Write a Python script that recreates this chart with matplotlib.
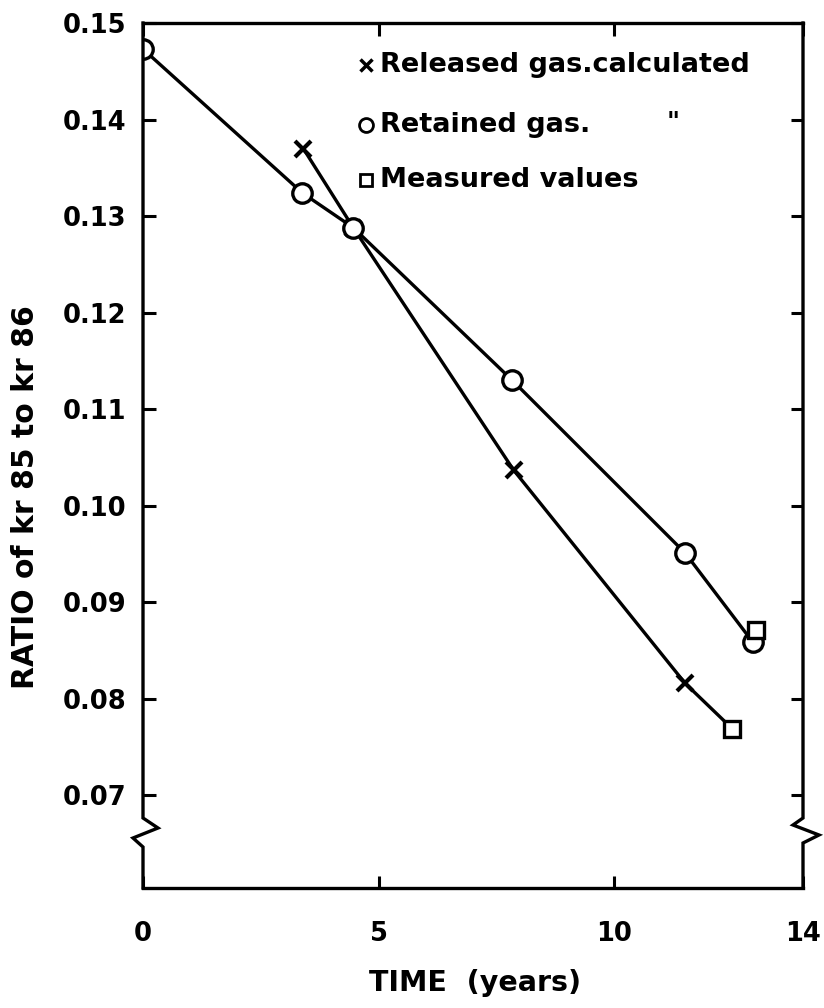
import matplotlib
matplotlib.use("Agg")
import matplotlib.pyplot as plt

# Data
retained_t = [0.0, 3.38, 4.46, 7.83, 11.5, 12.93]
retained_r = [0.1473, 0.1324, 0.1288, 0.1130, 0.0951, 0.0859]

released_t = [3.40, 4.46, 7.86, 11.5]
released_r = [0.1370, 0.1288, 0.1037, 0.0816]

measured_t = [12.5, 13.0]
measured_r = [0.0769, 0.0871]

x_ticks = [0, 5, 10, 14]
y_ticks = [0.07, 0.08, 0.09, 0.10, 0.11, 0.12, 0.13, 0.14, 0.15]
y_labels = ["0.07", "0.08", "0.09", "0.10", "0.11", "0.12", "0.13", "0.14", "0.15"]

legend_labels = ["Released gas.calculated", "Retained gas.", "Measured values"]

plt.rcParams['font.family'] = ['DejaVu Sans']
plt.rcParams['font.weight'] = 'bold'

W, H = 824, 1008
fig = plt.figure(figsize=(W / 100, H / 100), dpi=100)
L, R, T, B = 143, 803, 23, 888
ax = fig.add_axes([L / W, 1 - B / H, (R - L) / W, (B - T) / H])
ax.set_xlim(0, 14)
ax.set_ylim(0.0604, 0.15)

lw = 2.4
# lines
ax.plot(retained_t, retained_r, color='black', lw=lw, zorder=2)
ax.plot(released_t + [measured_t[0]], released_r + [measured_r[0]], color='black', lw=lw, zorder=2)
# markers
ax.plot(released_t, released_r, ls='none', marker='x', ms=12, mew=3, color='black', zorder=3)
ax.plot(retained_t, retained_r, ls='none', marker='o', ms=14, mew=2.4, mfc='white', mec='black', zorder=4)
ax.plot(measured_t, measured_r, ls='none', marker='s', ms=11, mew=2.4, mfc='white', mec='black', zorder=5)

# spines: keep top/bottom, draw left/right manually with breaks
for s in ['left', 'right']:
    ax.spines[s].set_visible(False)
for s in ['top', 'bottom']:
    ax.spines[s].set_linewidth(lw)

aw = R - L
ah = B - T
def px2y(py):
    return 1 - (py - T) / ah

# left spine with zigzag
lx = [0, 0, 15 / aw, -10 / aw, 0, 0]
ly = [1, px2y(818), px2y(828), px2y(838), px2y(847), 0]
ax.plot(lx, ly, transform=ax.transAxes, color='black', lw=lw, clip_on=False,
        solid_joinstyle='miter', zorder=6)
# right spine with zigzag
rx = [1, 1, 1 - 10 / aw, 1 + 16 / aw, 1, 1]
ry = [1, px2y(818), px2y(825), px2y(835), px2y(843), 0]
ax.plot(rx, ry, transform=ax.transAxes, color='black', lw=lw, clip_on=False,
        solid_joinstyle='miter', zorder=6)

# ticks
ax.set_xticks(x_ticks)
ax.set_xticklabels([str(v) for v in x_ticks], fontsize=18.5, fontweight='bold')
ax.set_yticks(y_ticks)
ax.set_yticklabels(y_labels, fontsize=18.5, fontweight='bold')
ax.tick_params(axis='both', direction='in', length=9, width=2.2, top=True, right=True)
ax.tick_params(axis='x', pad=24)
ax.tick_params(axis='y', pad=12)

fig.text(475 / W, 1 - 983 / H, "TIME  (years)", fontsize=20.5, fontweight='bold',
         ha='center', va='center')
fig.text(26 / W, 1 - 497 / H, "RATIO of kr 85 to kr 86", rotation=90, fontsize=21.5,
         fontweight='bold', ha='center', va='center')

# legend (hand-made)
def ax_frac_x(px):
    return (px - L) / aw
legend_y = [65, 125, 180]
mk = ['x', 'o', 's']
mks = [8, 10, 8]
for lab, py, m, ms in zip(legend_labels, legend_y, mk, mks):
    if m == 'x':
        ax.plot([ax_frac_x(366)], [px2y(py)], transform=ax.transAxes, marker='x', ms=ms, mew=2.5,
                color='black', ls='none', clip_on=False)
    else:
        ax.plot([ax_frac_x(366)], [px2y(py)], transform=ax.transAxes, marker=m, ms=ms, mew=2,
                mfc='white', mec='black', ls='none', clip_on=False)
    ax.text(ax_frac_x(380), px2y(py), lab, transform=ax.transAxes, fontsize=19.5,
            fontweight='bold', ha='left', va='center')
ax.text(ax_frac_x(673), px2y(122), '"', transform=ax.transAxes, fontsize=18,
        fontweight='bold', ha='center', va='center')

fig.savefig("out.png", dpi=100)
